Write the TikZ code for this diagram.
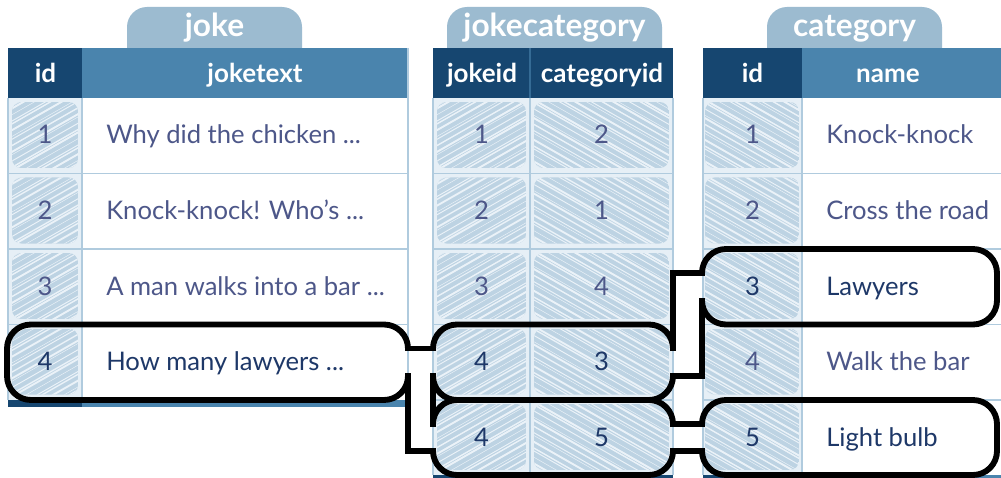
\documentclass[tikz,border=0pt]{standalone}
\usepackage{fontspec}
\setmainfont{Lato}
\definecolor{dk}{HTML}{164670}
\definecolor{md}{HTML}{4A84AD}
\definecolor{tabc}{HTML}{9CBBD0}
\definecolor{cellbg}{HTML}{E6EFF6}
\definecolor{scr}{HTML}{BDD3E3}
\definecolor{gridc}{HTML}{B0CBDE}
\definecolor{txt}{HTML}{4D5789}
\definecolor{txthl}{HTML}{1E3868}
\newcommand{\scrib}[5]{%
  \begin{scope}
    \clip[rounded corners=7pt] (#1,#2) rectangle (#3,#4);
    \fill[scr] (#1,#2) rectangle (#3,#4);
    \foreach \k in {0,...,34}{
      \pgfmathsetmacro\sx{#1-140+9*\k+2*mod(\k*7,3)}
      \pgfmathsetmacro\lw{0.35+0.35*mod(\k*5,4)}
      \ifnum#5=1
        \draw[cellbg!80!white, line width=\lw pt] (\sx,#4+5) -- ++(140,-80);
      \else
        \draw[cellbg!80!white, line width=\lw pt] (\sx,#2-5) -- ++(140,80);
      \fi
    }
  \end{scope}}
\tikzset{
  hl/.style={line width=4.4pt, black},
  rc/.style={rounded corners=18pt},
  tube/.style={hl, line cap=rect},
  gridl/.style={gridc, line width=0.8pt},
  ttl/.style={text=white, font=\bfseries\fontsize{23.75}{24}\selectfont, anchor=base, inner sep=0pt},
  hdr/.style={text=white, font=\bfseries\fontsize{19.5}{20}\selectfont, anchor=base, inner sep=0pt},
  bd/.style={text=txt, font=\fontsize{19.2}{20}\selectfont, anchor=base, inner sep=0pt},
  bdh/.style={bd, text=txthl},
}
\begin{document}
\begin{tikzpicture}[x=0.75pt,y=-0.75pt]
\useasboundingbox (0,0) rectangle (1001,478);
\fill[white] (0,0) rectangle (1001,478);

% ---------- tabs ----------
\fill[tabc, rounded corners=15pt] (127,7) rectangle (302,70);
\fill[tabc, rounded corners=15pt] (447,7) rectangle (662,70);
\fill[tabc, rounded corners=15pt] (767,7) rectangle (942,70);
\node[ttl] (tjoke) at (214.5,37) {joke};
\node[ttl] (tjc) at (554.5,37) {jokecategory};
\node[ttl] (tcat) at (854.5,37) {category};

% ---------- joke table ----------
\fill[dk] (8,48) rectangle (82,98);
\fill[md] (82,48) rectangle (408,98);
\fill[cellbg] (8,98) rectangle (82,400);
\foreach \i in {0,...,3}{
  \pgfmathsetmacro\ya{98+75.5*\i}
  \scrib{12}{\ya+4}{78}{\ya+70}{1}
}
\foreach \yy in {173.5,249,324.5}{\draw[gridl] (8,\yy) -- (408,\yy);}
\draw[gridl] (8,98) -- (8,400);
\draw[gridl] (82,98) -- (82,400);
\draw[gridl] (408,48) -- (408,400);
\fill[dk] (8,400) rectangle (82,407);
\fill[md] (82,400) rectangle (408,407);
\node[hdr] (hjid) at (45.5,82.5) {id};
\node[hdr] (hjtx) at (255,82.5) {joketext};
\node[bd] (j1) at (45,144) {1};
\node[bd] (j2) at (45,219.5) {2};
\node[bd] (j3) at (45,295) {3};
\node[bdh] (j4) at (45,370.5) {4};
\node[bd, anchor=base west] (jt1) at (106,144) {Why did the chicken ...};
\node[bd, anchor=base west] (jt2) at (106,219.5) {Knock-knock! Who’s ...};
\node[bd, anchor=base west] (jt3) at (106,295) {A man walks into a bar ...};
\node[bdh, anchor=base west] (jt4) at (106,370.5) {How many lawyers ...};

% ---------- jokecategory table ----------
\fill[dk] (433,48) rectangle (673,98);
\draw[md!60!dk, line width=0.8pt] (530,48) -- (530,98);
\fill[cellbg] (433,98) rectangle (673,475);
\foreach \i in {0,...,4}{
  \pgfmathsetmacro\ya{98+75.5*\i}
  \scrib{437}{\ya+4}{526}{\ya+70}{1}
  \scrib{534}{\ya+4}{669}{\ya+70}{-1}
}
\foreach \yy in {173.5,249,324.5,400}{\draw[gridl] (433,\yy) -- (673,\yy);}
\draw[gridl] (433,98) -- (433,475);
\draw[gridl] (530,98) -- (530,475);
\draw[gridl] (673,98) -- (673,475);
\fill[dk] (433,475) rectangle (673,478);
\node[hdr] (hjcj) at (482,82.5) {jokeid};
\node[hdr] (hjcc) at (602,82.5) {categoryid};
\node[bd] (a1) at (481.5,144) {1};
\node[bd] (b1) at (601.5,144) {2};
\node[bd] (a2) at (481.5,219.5) {2};
\node[bd] (b2) at (601.5,219.5) {1};
\node[bd] (a3) at (481.5,295) {3};
\node[bd] (b3) at (601.5,295) {4};
\node[bdh] (a4) at (481.5,370.5) {4};
\node[bdh] (b4) at (601.5,370.5) {3};
\node[bdh] (a5) at (481.5,446) {4};
\node[bdh] (b5) at (601.5,446) {5};

% ---------- category table ----------
\fill[dk] (703,48) rectangle (802,98);
\fill[md] (802,48) rectangle (1001,98);
\fill[cellbg] (703,98) rectangle (802,475);
\foreach \i in {0,...,4}{
  \pgfmathsetmacro\ya{98+75.5*\i}
  \scrib{705}{\ya+4}{799}{\ya+70}{-1}
}
\foreach \yy in {173.5,249,324.5,400}{\draw[gridl] (703,\yy) -- (1001,\yy);}
\draw[gridl] (703,98) -- (703,475);
\draw[gridl] (802,98) -- (802,475);
\fill[dk] (703,475) rectangle (802,478);
\fill[md] (802,475) rectangle (1001,478);
\node[hdr] (hcid) at (752.5,82.5) {id};
\node[hdr] (hcnm) at (888,82.5) {name};
\node[bd] (c1) at (752.5,144) {1};
\node[bd] (c2) at (752.5,219.5) {2};
\node[bdh] (c3) at (752.5,295) {3};
\node[bd] (c4) at (752.5,370.5) {4};
\node[bdh] (c5) at (752.5,446) {5};
\node[bd, anchor=base west] (ct1) at (826,144) {Knock-knock};
\node[bd, anchor=base west] (ct2) at (826,219.5) {Cross the road};
\node[bdh, anchor=base west] (ct3) at (826,295) {Lawyers};
\node[bd, anchor=base west] (ct4) at (826,370.5) {Walk the bar};
\node[bdh, anchor=base west] (ct5) at (826,446) {Light bulb};

% ---------- highlight outlines ----------
% joke row 4 (open on the right)
\draw[hl, rc] (408,376) -- (408,400) -- (7,400) -- (7,324.5) -- (408,324.5) -- (408,348.5);
% jokecategory row 4 (open both sides)
\draw[hl, rc] (433,348.5) -- (433,324.5) -- (673,324.5) -- (673,348.5);
\draw[hl, rc] (433,376) -- (433,400) -- (673,400) -- (673,376);
% jokecategory row 5 (open both sides)
\draw[hl, rc] (433,424) -- (433,400) -- (673,400) -- (673,424);
\draw[hl, rc] (433,451) -- (433,475) -- (673,475) -- (673,451);
% category row 3 (open on the left)
\draw[hl, rc] (702,300.5) -- (702,324.5) -- (997,324.5) -- (997,249) -- (702,249) -- (702,273);
% category row 5 (open on the left)
\draw[hl, rc] (702,451) -- (702,475) -- (997,475) -- (997,400) -- (702,400) -- (702,424);
% channels joke -> jokecategory
\draw[tube] (408,348.5) -- (433,348.5);
\draw[tube] (408,376) -- (408,451) -- (433,451);
\draw[tube] (433,376) -- (433,424);
% channels jokecategory -> category
\draw[tube] (673,348.5) -- (673,273) -- (702,273);
\draw[tube] (702,300.5) -- (702,376) -- (673,376);
\draw[tube] (673,424) -- (702,424);
\draw[tube] (673,451) -- (702,451);
\end{tikzpicture}
\end{document}
